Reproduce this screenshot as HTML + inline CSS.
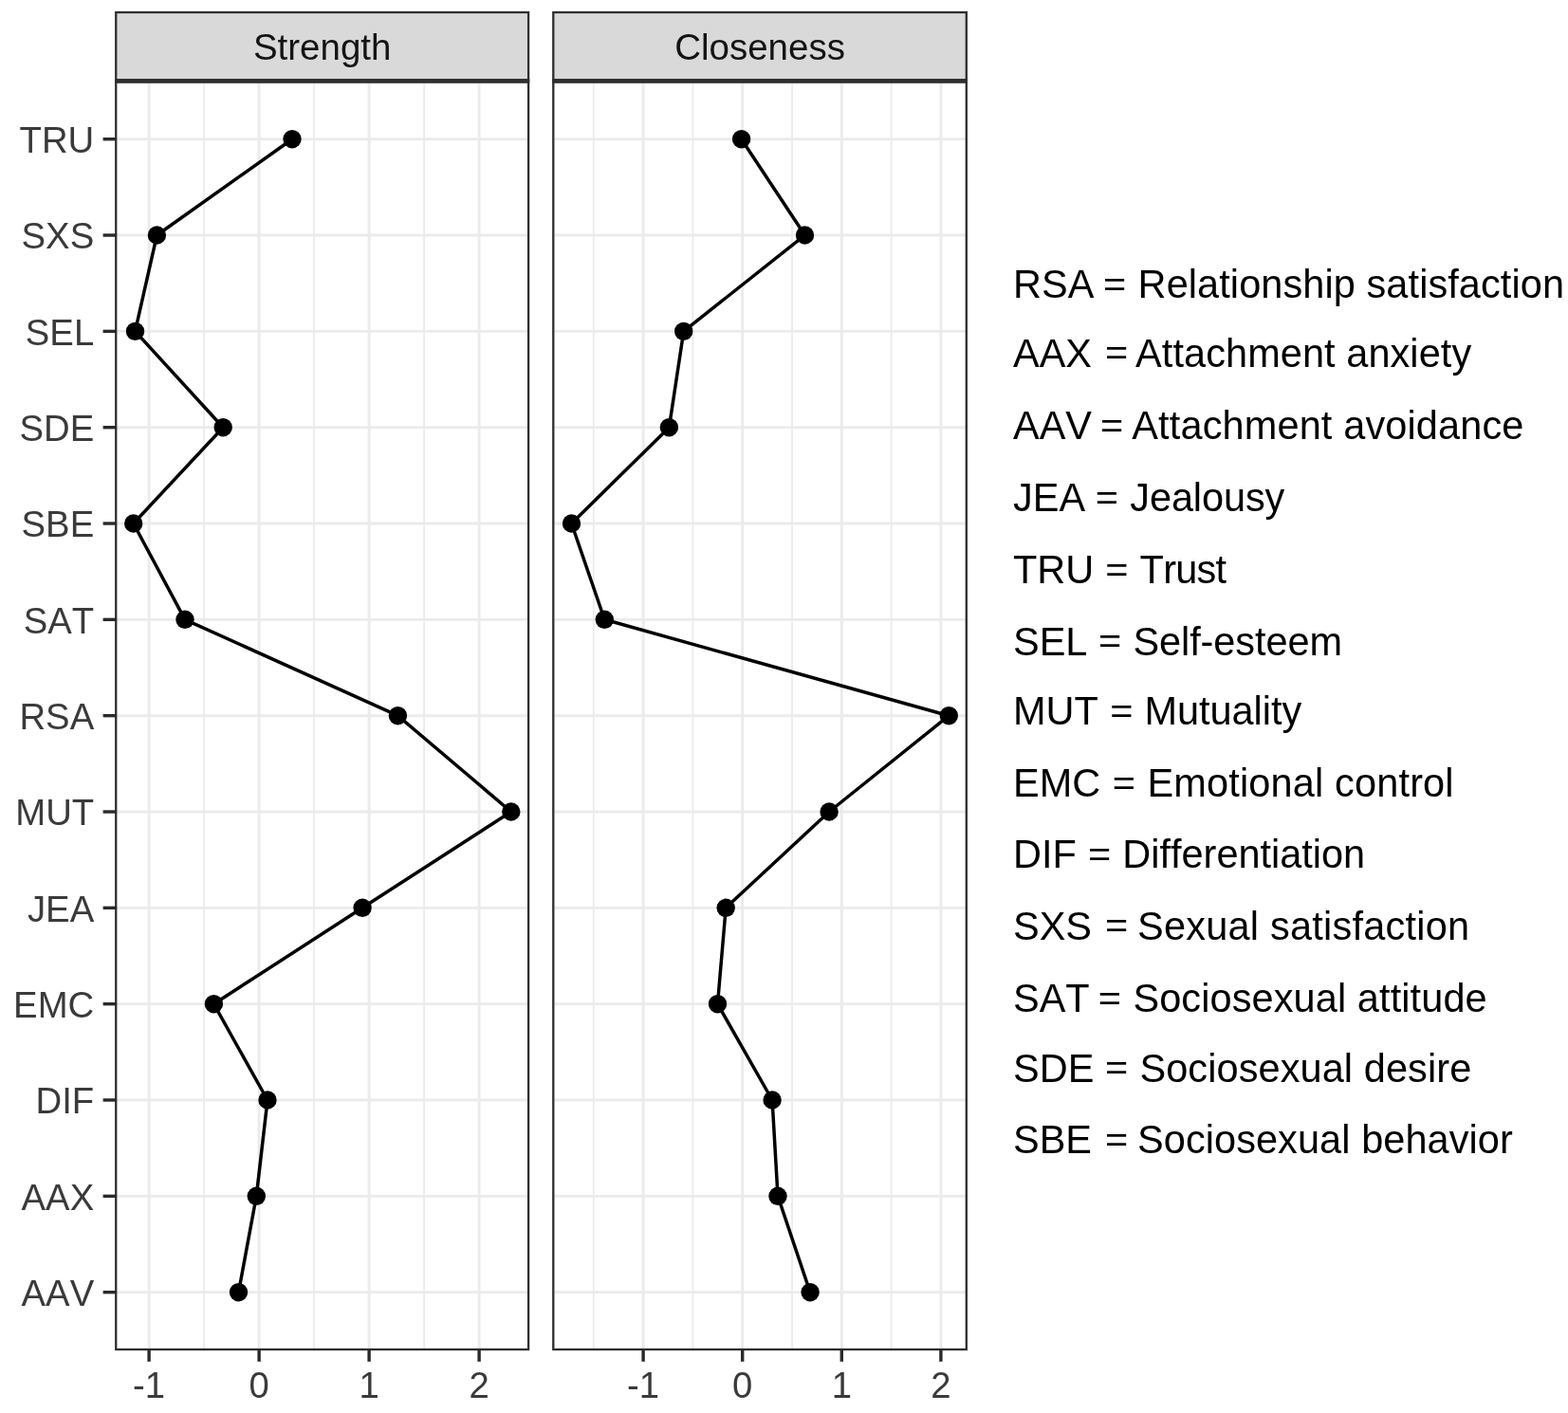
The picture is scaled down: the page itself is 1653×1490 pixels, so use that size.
<!DOCTYPE html>
<html><head><meta charset="utf-8"><title>Strength and Closeness centrality</title>
<style>html,body{margin:0;padding:0;background:#fff;}svg{display:block;} text{font-kerning:none;font-feature-settings:"kern" 0;}</style>
</head><body>
<svg width="1653" height="1490" viewBox="0 0 1653 1490" font-family="'Liberation Sans', Arial, sans-serif">
<rect width="1653" height="1490" fill="#fff"/>
<rect x="122.25" y="86.4" width="434.85" height="1336.60" fill="#fff"/>
<line x1="215.10" y1="86.4" x2="215.10" y2="1423.0" stroke="#ebebeb" stroke-width="1.8"/>
<line x1="331.10" y1="86.4" x2="331.10" y2="1423.0" stroke="#ebebeb" stroke-width="1.8"/>
<line x1="447.10" y1="86.4" x2="447.10" y2="1423.0" stroke="#ebebeb" stroke-width="1.8"/>
<line x1="122.25" y1="146.70" x2="557.1" y2="146.70" stroke="#ebebeb" stroke-width="2.9"/>
<line x1="122.25" y1="248.03" x2="557.1" y2="248.03" stroke="#ebebeb" stroke-width="2.9"/>
<line x1="122.25" y1="349.36" x2="557.1" y2="349.36" stroke="#ebebeb" stroke-width="2.9"/>
<line x1="122.25" y1="450.69" x2="557.1" y2="450.69" stroke="#ebebeb" stroke-width="2.9"/>
<line x1="122.25" y1="552.02" x2="557.1" y2="552.02" stroke="#ebebeb" stroke-width="2.9"/>
<line x1="122.25" y1="653.35" x2="557.1" y2="653.35" stroke="#ebebeb" stroke-width="2.9"/>
<line x1="122.25" y1="754.68" x2="557.1" y2="754.68" stroke="#ebebeb" stroke-width="2.9"/>
<line x1="122.25" y1="856.01" x2="557.1" y2="856.01" stroke="#ebebeb" stroke-width="2.9"/>
<line x1="122.25" y1="957.34" x2="557.1" y2="957.34" stroke="#ebebeb" stroke-width="2.9"/>
<line x1="122.25" y1="1058.67" x2="557.1" y2="1058.67" stroke="#ebebeb" stroke-width="2.9"/>
<line x1="122.25" y1="1160.00" x2="557.1" y2="1160.00" stroke="#ebebeb" stroke-width="2.9"/>
<line x1="122.25" y1="1261.33" x2="557.1" y2="1261.33" stroke="#ebebeb" stroke-width="2.9"/>
<line x1="122.25" y1="1362.66" x2="557.1" y2="1362.66" stroke="#ebebeb" stroke-width="2.9"/>
<line x1="157.10" y1="86.4" x2="157.10" y2="1423.0" stroke="#ebebeb" stroke-width="2.9"/>
<line x1="273.10" y1="86.4" x2="273.10" y2="1423.0" stroke="#ebebeb" stroke-width="2.9"/>
<line x1="389.10" y1="86.4" x2="389.10" y2="1423.0" stroke="#ebebeb" stroke-width="2.9"/>
<line x1="505.10" y1="86.4" x2="505.10" y2="1423.0" stroke="#ebebeb" stroke-width="2.9"/>
<polyline points="308.0,146.7 165.4,248.0 142.5,349.4 235.2,450.7 140.7,552.0 195.0,653.3 419.4,754.7 538.8,856.0 382.1,957.3 225.4,1058.7 282.0,1160.0 270.3,1261.3 251.5,1362.7" fill="none" stroke="#000" stroke-width="3.5" stroke-linejoin="round"/>
<circle cx="308.0" cy="146.7" r="9.7" fill="#000"/>
<circle cx="165.4" cy="248.0" r="9.7" fill="#000"/>
<circle cx="142.5" cy="349.4" r="9.7" fill="#000"/>
<circle cx="235.2" cy="450.7" r="9.7" fill="#000"/>
<circle cx="140.7" cy="552.0" r="9.7" fill="#000"/>
<circle cx="195.0" cy="653.3" r="9.7" fill="#000"/>
<circle cx="419.4" cy="754.7" r="9.7" fill="#000"/>
<circle cx="538.8" cy="856.0" r="9.7" fill="#000"/>
<circle cx="382.1" cy="957.3" r="9.7" fill="#000"/>
<circle cx="225.4" cy="1058.7" r="9.7" fill="#000"/>
<circle cx="282.0" cy="1160.0" r="9.7" fill="#000"/>
<circle cx="270.3" cy="1261.3" r="9.7" fill="#000"/>
<circle cx="251.5" cy="1362.7" r="9.7" fill="#000"/>
<rect x="122.25" y="86.4" width="434.85" height="1336.60" fill="none" stroke="#2e2e2e" stroke-width="2.3"/>
<rect x="122.25" y="13.0" width="434.85" height="71.40" fill="#d9d9d9" stroke="#2e2e2e" stroke-width="2.3"/>
<text x="339.68" y="63.3" text-anchor="middle" font-size="38.5" fill="#141414">Strength</text>
<line x1="157.10" y1="1423.0" x2="157.10" y2="1435.8" stroke="#2a2a2a" stroke-width="3.4"/>
<text transform="translate(157.10 1473.50) scale(1 1.025)" font-size="38.3" fill="#3a3a3a" text-anchor="middle">-1</text>
<line x1="273.10" y1="1423.0" x2="273.10" y2="1435.8" stroke="#2a2a2a" stroke-width="3.4"/>
<text transform="translate(273.10 1473.50) scale(1 1.025)" font-size="38.3" fill="#3a3a3a" text-anchor="middle">0</text>
<line x1="389.10" y1="1423.0" x2="389.10" y2="1435.8" stroke="#2a2a2a" stroke-width="3.4"/>
<text transform="translate(389.10 1473.50) scale(1 1.025)" font-size="38.3" fill="#3a3a3a" text-anchor="middle">1</text>
<line x1="505.10" y1="1423.0" x2="505.10" y2="1435.8" stroke="#2a2a2a" stroke-width="3.4"/>
<text transform="translate(505.10 1473.50) scale(1 1.025)" font-size="38.3" fill="#3a3a3a" text-anchor="middle">2</text>
<rect x="583.3" y="86.4" width="435.50" height="1336.60" fill="#fff"/>
<line x1="625.80" y1="86.4" x2="625.80" y2="1423.0" stroke="#ebebeb" stroke-width="1.8"/>
<line x1="730.40" y1="86.4" x2="730.40" y2="1423.0" stroke="#ebebeb" stroke-width="1.8"/>
<line x1="835.00" y1="86.4" x2="835.00" y2="1423.0" stroke="#ebebeb" stroke-width="1.8"/>
<line x1="939.60" y1="86.4" x2="939.60" y2="1423.0" stroke="#ebebeb" stroke-width="1.8"/>
<line x1="583.3" y1="146.70" x2="1018.8" y2="146.70" stroke="#ebebeb" stroke-width="2.9"/>
<line x1="583.3" y1="248.03" x2="1018.8" y2="248.03" stroke="#ebebeb" stroke-width="2.9"/>
<line x1="583.3" y1="349.36" x2="1018.8" y2="349.36" stroke="#ebebeb" stroke-width="2.9"/>
<line x1="583.3" y1="450.69" x2="1018.8" y2="450.69" stroke="#ebebeb" stroke-width="2.9"/>
<line x1="583.3" y1="552.02" x2="1018.8" y2="552.02" stroke="#ebebeb" stroke-width="2.9"/>
<line x1="583.3" y1="653.35" x2="1018.8" y2="653.35" stroke="#ebebeb" stroke-width="2.9"/>
<line x1="583.3" y1="754.68" x2="1018.8" y2="754.68" stroke="#ebebeb" stroke-width="2.9"/>
<line x1="583.3" y1="856.01" x2="1018.8" y2="856.01" stroke="#ebebeb" stroke-width="2.9"/>
<line x1="583.3" y1="957.34" x2="1018.8" y2="957.34" stroke="#ebebeb" stroke-width="2.9"/>
<line x1="583.3" y1="1058.67" x2="1018.8" y2="1058.67" stroke="#ebebeb" stroke-width="2.9"/>
<line x1="583.3" y1="1160.00" x2="1018.8" y2="1160.00" stroke="#ebebeb" stroke-width="2.9"/>
<line x1="583.3" y1="1261.33" x2="1018.8" y2="1261.33" stroke="#ebebeb" stroke-width="2.9"/>
<line x1="583.3" y1="1362.66" x2="1018.8" y2="1362.66" stroke="#ebebeb" stroke-width="2.9"/>
<line x1="678.10" y1="86.4" x2="678.10" y2="1423.0" stroke="#ebebeb" stroke-width="2.9"/>
<line x1="782.70" y1="86.4" x2="782.70" y2="1423.0" stroke="#ebebeb" stroke-width="2.9"/>
<line x1="887.30" y1="86.4" x2="887.30" y2="1423.0" stroke="#ebebeb" stroke-width="2.9"/>
<line x1="991.90" y1="86.4" x2="991.90" y2="1423.0" stroke="#ebebeb" stroke-width="2.9"/>
<polyline points="781.6,146.7 848.5,248.0 720.7,349.4 705.4,450.7 602.5,552.0 637.3,653.3 1000.3,754.7 874.1,856.0 765.2,957.3 756.5,1058.7 814.1,1160.0 820.0,1261.3 854.1,1362.7" fill="none" stroke="#000" stroke-width="3.5" stroke-linejoin="round"/>
<circle cx="781.6" cy="146.7" r="9.7" fill="#000"/>
<circle cx="848.5" cy="248.0" r="9.7" fill="#000"/>
<circle cx="720.7" cy="349.4" r="9.7" fill="#000"/>
<circle cx="705.4" cy="450.7" r="9.7" fill="#000"/>
<circle cx="602.5" cy="552.0" r="9.7" fill="#000"/>
<circle cx="637.3" cy="653.3" r="9.7" fill="#000"/>
<circle cx="1000.3" cy="754.7" r="9.7" fill="#000"/>
<circle cx="874.1" cy="856.0" r="9.7" fill="#000"/>
<circle cx="765.2" cy="957.3" r="9.7" fill="#000"/>
<circle cx="756.5" cy="1058.7" r="9.7" fill="#000"/>
<circle cx="814.1" cy="1160.0" r="9.7" fill="#000"/>
<circle cx="820.0" cy="1261.3" r="9.7" fill="#000"/>
<circle cx="854.1" cy="1362.7" r="9.7" fill="#000"/>
<rect x="583.3" y="86.4" width="435.50" height="1336.60" fill="none" stroke="#2e2e2e" stroke-width="2.3"/>
<rect x="583.3" y="13.0" width="435.50" height="71.40" fill="#d9d9d9" stroke="#2e2e2e" stroke-width="2.3"/>
<text x="801.05" y="63.3" text-anchor="middle" font-size="38.5" fill="#141414">Closeness</text>
<line x1="678.10" y1="1423.0" x2="678.10" y2="1435.8" stroke="#2a2a2a" stroke-width="3.4"/>
<text transform="translate(678.10 1473.50) scale(1 1.025)" font-size="38.3" fill="#3a3a3a" text-anchor="middle">-1</text>
<line x1="782.70" y1="1423.0" x2="782.70" y2="1435.8" stroke="#2a2a2a" stroke-width="3.4"/>
<text transform="translate(782.70 1473.50) scale(1 1.025)" font-size="38.3" fill="#3a3a3a" text-anchor="middle">0</text>
<line x1="887.30" y1="1423.0" x2="887.30" y2="1435.8" stroke="#2a2a2a" stroke-width="3.4"/>
<text transform="translate(887.30 1473.50) scale(1 1.025)" font-size="38.3" fill="#3a3a3a" text-anchor="middle">1</text>
<line x1="991.90" y1="1423.0" x2="991.90" y2="1435.8" stroke="#2a2a2a" stroke-width="3.4"/>
<text transform="translate(991.90 1473.50) scale(1 1.025)" font-size="38.3" fill="#3a3a3a" text-anchor="middle">2</text>
<rect x="121.10" y="83.25" width="437.15" height="4.30" fill="#2e2e2e"/>
<rect x="582.15" y="83.25" width="437.80" height="4.30" fill="#2e2e2e"/>
<line x1="108.6" y1="146.70" x2="122.25" y2="146.70" stroke="#2a2a2a" stroke-width="3.4"/>
<text transform="translate(99.20 161.00) scale(1 1.025)" font-size="38.3" fill="#3a3a3a" text-anchor="end">TRU</text>
<line x1="108.6" y1="248.03" x2="122.25" y2="248.03" stroke="#2a2a2a" stroke-width="3.4"/>
<text transform="translate(99.20 262.33) scale(1 1.025)" font-size="38.3" fill="#3a3a3a" text-anchor="end">SXS</text>
<line x1="108.6" y1="349.36" x2="122.25" y2="349.36" stroke="#2a2a2a" stroke-width="3.4"/>
<text transform="translate(99.20 363.66) scale(1 1.025)" font-size="38.3" fill="#3a3a3a" text-anchor="end">SEL</text>
<line x1="108.6" y1="450.69" x2="122.25" y2="450.69" stroke="#2a2a2a" stroke-width="3.4"/>
<text transform="translate(99.20 464.99) scale(1 1.025)" font-size="38.3" fill="#3a3a3a" text-anchor="end">SDE</text>
<line x1="108.6" y1="552.02" x2="122.25" y2="552.02" stroke="#2a2a2a" stroke-width="3.4"/>
<text transform="translate(99.20 566.32) scale(1 1.025)" font-size="38.3" fill="#3a3a3a" text-anchor="end">SBE</text>
<line x1="108.6" y1="653.35" x2="122.25" y2="653.35" stroke="#2a2a2a" stroke-width="3.4"/>
<text transform="translate(99.20 667.65) scale(1 1.025)" font-size="38.3" fill="#3a3a3a" text-anchor="end">SAT</text>
<line x1="108.6" y1="754.68" x2="122.25" y2="754.68" stroke="#2a2a2a" stroke-width="3.4"/>
<text transform="translate(99.20 768.98) scale(1 1.025)" font-size="38.3" fill="#3a3a3a" text-anchor="end">RSA</text>
<line x1="108.6" y1="856.01" x2="122.25" y2="856.01" stroke="#2a2a2a" stroke-width="3.4"/>
<text transform="translate(99.20 870.31) scale(1 1.025)" font-size="38.3" fill="#3a3a3a" text-anchor="end">MUT</text>
<line x1="108.6" y1="957.34" x2="122.25" y2="957.34" stroke="#2a2a2a" stroke-width="3.4"/>
<text transform="translate(99.20 971.64) scale(1 1.025)" font-size="38.3" fill="#3a3a3a" text-anchor="end">JEA</text>
<line x1="108.6" y1="1058.67" x2="122.25" y2="1058.67" stroke="#2a2a2a" stroke-width="3.4"/>
<text transform="translate(99.20 1072.97) scale(1 1.025)" font-size="38.3" fill="#3a3a3a" text-anchor="end">EMC</text>
<line x1="108.6" y1="1160.00" x2="122.25" y2="1160.00" stroke="#2a2a2a" stroke-width="3.4"/>
<text transform="translate(99.20 1174.30) scale(1 1.025)" font-size="38.3" fill="#3a3a3a" text-anchor="end">DIF</text>
<line x1="108.6" y1="1261.33" x2="122.25" y2="1261.33" stroke="#2a2a2a" stroke-width="3.4"/>
<text transform="translate(99.20 1275.63) scale(1 1.025)" font-size="38.3" fill="#3a3a3a" text-anchor="end">AAX</text>
<line x1="108.6" y1="1362.66" x2="122.25" y2="1362.66" stroke="#2a2a2a" stroke-width="3.4"/>
<text transform="translate(99.20 1376.96) scale(1 1.025)" font-size="38.3" fill="#3a3a3a" text-anchor="end">AAV</text>
<text transform="translate(1068.00 313.90) scale(1 1.045)" font-size="41.5" fill="#000">RSA</text>
<text transform="translate(1163.10 311.75) scale(1 0.888)" font-size="41.5" fill="#000">=</text>
<text transform="translate(1199.60 313.90) scale(1 1.02)" font-size="41.5" fill="#000" letter-spacing="0.083">Relationship satisfaction</text>
<text transform="translate(1068.00 386.50) scale(1 1.045)" font-size="41.5" fill="#000">AAX</text>
<text transform="translate(1164.90 384.35) scale(1 0.888)" font-size="41.5" fill="#000">=</text>
<text transform="translate(1197.10 386.50) scale(1 1.02)" font-size="41.5" fill="#000" letter-spacing="0.071">Attachment anxiety</text>
<text transform="translate(1068.00 462.90) scale(1 1.045)" font-size="41.5" fill="#000">AAV</text>
<text transform="translate(1160.10 460.75) scale(1 0.888)" font-size="41.5" fill="#000">=</text>
<text transform="translate(1193.30 462.90) scale(1 1.02)" font-size="41.5" fill="#000" letter-spacing="0.137">Attachment avoidance</text>
<text transform="translate(1068.00 539.40) scale(1 1.045)" font-size="41.5" fill="#000">JEA</text>
<text transform="translate(1154.70 537.25) scale(1 0.888)" font-size="41.5" fill="#000">=</text>
<text transform="translate(1191.30 539.40) scale(1 1.02)" font-size="41.5" fill="#000" letter-spacing="-0.114">Jealousy</text>
<text transform="translate(1068.00 615.00) scale(1 1.045)" font-size="41.5" fill="#000">TRU</text>
<text transform="translate(1165.20 612.85) scale(1 0.888)" font-size="41.5" fill="#000">=</text>
<text transform="translate(1201.60 615.00) scale(1 1.02)" font-size="41.5" fill="#000" letter-spacing="-0.800">Trust</text>
<text transform="translate(1068.00 690.50) scale(1 1.045)" font-size="41.5" fill="#000">SEL</text>
<text transform="translate(1158.10 688.35) scale(1 0.888)" font-size="41.5" fill="#000">=</text>
<text transform="translate(1194.40 690.50) scale(1 1.02)" font-size="41.5" fill="#000" letter-spacing="-0.070">Self-esteem</text>
<text transform="translate(1068.00 763.90) scale(1 1.045)" font-size="41.5" fill="#000">MUT</text>
<text transform="translate(1170.20 761.75) scale(1 0.888)" font-size="41.5" fill="#000">=</text>
<text transform="translate(1206.40 763.90) scale(1 1.02)" font-size="41.5" fill="#000" letter-spacing="-0.025">Mutuality</text>
<text transform="translate(1068.00 839.80) scale(1 1.045)" font-size="41.5" fill="#000">EMC</text>
<text transform="translate(1172.80 837.65) scale(1 0.888)" font-size="41.5" fill="#000">=</text>
<text transform="translate(1209.50 839.80) scale(1 1.02)" font-size="41.5" fill="#000" letter-spacing="0.156">Emotional control</text>
<text transform="translate(1068.00 915.00) scale(1 1.045)" font-size="41.5" fill="#000">DIF</text>
<text transform="translate(1147.00 912.85) scale(1 0.888)" font-size="41.5" fill="#000">=</text>
<text transform="translate(1183.30 915.00) scale(1 1.02)" font-size="41.5" fill="#000" letter-spacing="-0.007">Differentiation</text>
<text transform="translate(1068.00 990.50) scale(1 1.045)" font-size="41.5" fill="#000">SXS</text>
<text transform="translate(1165.10 988.35) scale(1 0.888)" font-size="41.5" fill="#000">=</text>
<text transform="translate(1199.00 990.50) scale(1 1.02)" font-size="41.5" fill="#000" letter-spacing="0.228">Sexual satisfaction</text>
<text transform="translate(1068.00 1067.10) scale(1 1.045)" font-size="41.5" fill="#000">SAT</text>
<text transform="translate(1157.70 1064.95) scale(1 0.888)" font-size="41.5" fill="#000">=</text>
<text transform="translate(1194.40 1067.10) scale(1 1.02)" font-size="41.5" fill="#000" letter-spacing="0.100">Sociosexual attitude</text>
<text transform="translate(1068.00 1140.60) scale(1 1.045)" font-size="41.5" fill="#000">SDE</text>
<text transform="translate(1165.10 1138.45) scale(1 0.888)" font-size="41.5" fill="#000">=</text>
<text transform="translate(1201.40 1140.60) scale(1 1.02)" font-size="41.5" fill="#000" letter-spacing="0.094">Sociosexual desire</text>
<text transform="translate(1068.00 1216.10) scale(1 1.045)" font-size="41.5" fill="#000">SBE</text>
<text transform="translate(1165.10 1213.95) scale(1 0.888)" font-size="41.5" fill="#000">=</text>
<text transform="translate(1199.00 1216.10) scale(1 1.02)" font-size="41.5" fill="#000" letter-spacing="0.074">Sociosexual behavior</text>
</svg>
</body></html>
